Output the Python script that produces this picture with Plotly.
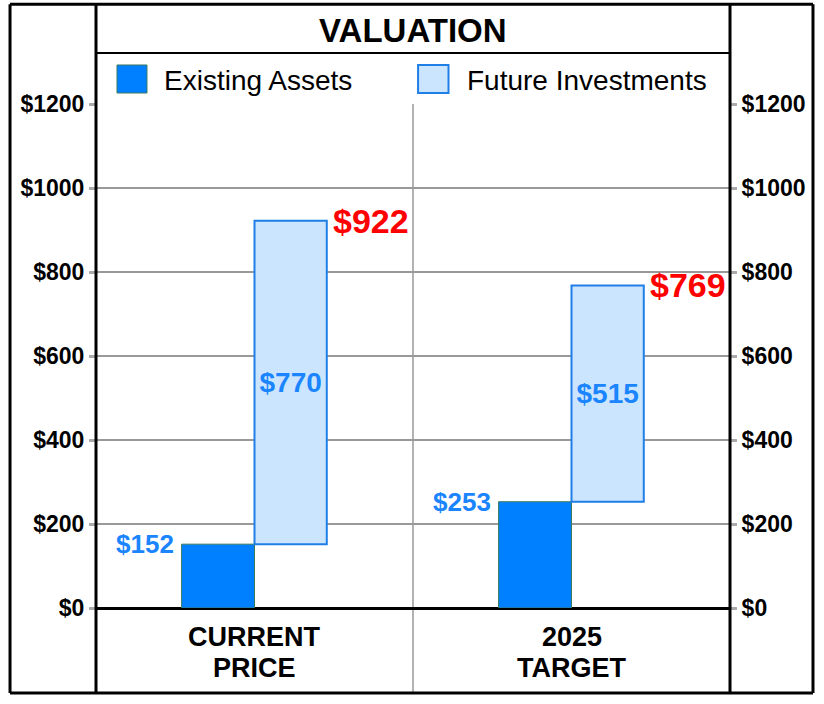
import plotly.graph_objects as go

categories = ["CURRENT PRICE", "2025 TARGET"]
category_lines = [["CURRENT", "PRICE"], ["2025", "TARGET"]]
existing_assets = [152, 253]
future_investments = [770, 515]
totals = [922, 769]
y_ticks = [0, 200, 400, 600, 800, 1000, 1200]
y_tick_labels = ["$0", "$200", "$400", "$600", "$800", "$1000", "$1200"]

FONT = "Liberation Sans, Arial, sans-serif"
BLUE = "#0080ff"
LIGHT = "#cce5ff"
LABEL_BLUE = "#1a85ff"

fig = go.Figure()
fig.add_trace(go.Bar(
    x=categories, y=existing_assets, name="Existing Assets",
    width=0.23, offset=-0.23,
    marker=dict(color=BLUE, line=dict(color="#3d7a5c", width=1)),
    hoverinfo="skip",
))
fig.add_trace(go.Bar(
    x=categories, y=future_investments, base=existing_assets, name="Future Investments",
    width=0.228, offset=0,
    marker=dict(color=LIGHT, line=dict(color="#1f7fe6", width=2)),
    text=["$%d" % v for v in future_investments],
    textposition="inside", insidetextanchor="middle", constraintext="none",
    textfont=dict(family=FONT, size=28, color=LABEL_BLUE, weight="bold"),
    hoverinfo="skip",
))
# invisible trace for right axis
fig.add_trace(go.Scatter(x=categories, y=existing_assets, yaxis="y2", mode="markers",
                         marker=dict(opacity=0), hoverinfo="skip", showlegend=False))

annotations = []
for c, v in zip(categories, existing_assets):
    annotations.append(dict(x=c, y=v, xref="x", yref="y", text="$%d" % v, showarrow=False,
                            xanchor="right", yanchor="middle", xshift=-79,
                            font=dict(family=FONT, size=26, color=LABEL_BLUE, weight="bold")))
for c, t in zip(categories, totals):
    annotations.append(dict(x=c, y=t, xref="x", yref="y", text="$%d" % t, showarrow=False,
                            xanchor="left", yanchor="middle", xshift=76,
                            font=dict(family=FONT, size=34, color="#ff0000", weight="bold")))

# category labels, one annotation per line
for c, lines in zip(categories, category_lines):
    for yy, line in zip([-0.0575, -0.119], lines):
        annotations.append(dict(x=c, y=yy, xref="x", yref="paper", text=line, showarrow=False,
                                xanchor="center", yanchor="middle",
                                font=dict(family=FONT, size=27, color="black", weight="bold")))

# title and legend (drawn in the header band)
annotations.append(dict(x=0.5, y=1.1468, xref="paper", yref="paper", text="VALUATION",
                        showarrow=False, xanchor="center", yanchor="middle",
                        font=dict(family=FONT, size=33, color="black", weight="bold")))
annotations.append(dict(x=0.1041, y=1.0476, xref="paper", yref="paper", text="Existing Assets",
                        showarrow=False, xanchor="left", yanchor="middle",
                        font=dict(family=FONT, size=28, color="black")))
annotations.append(dict(x=0.582, y=1.0476, xref="paper", yref="paper", text="Future Investments",
                        showarrow=False, xanchor="left", yanchor="middle",
                        font=dict(family=FONT, size=28, color="black")))

XL, XR, YB, YT = -0.1356, 1.1309, -0.1687, 1.198
shapes = [
    # outer border (four sides)
    dict(type="line", xref="paper", yref="paper", x0=XL, x1=XR, y0=YT, y1=YT,
         line=dict(color="black", width=3)),
    dict(type="line", xref="paper", yref="paper", x0=XL, x1=XR, y0=YB, y1=YB,
         line=dict(color="black", width=3)),
    dict(type="line", xref="paper", yref="paper", x0=XL, x1=XL, y0=YB, y1=YT,
         line=dict(color="black", width=3)),
    dict(type="line", xref="paper", yref="paper", x0=XR, x1=XR, y0=YB, y1=YT,
         line=dict(color="black", width=3)),
    # inner verticals
    dict(type="line", xref="paper", yref="paper", x0=0, x1=0, y0=YB, y1=YT,
         line=dict(color="black", width=3)),
    dict(type="line", xref="paper", yref="paper", x0=1, x1=1, y0=YB, y1=YT,
         line=dict(color="black", width=3)),
    # title separator
    dict(type="line", xref="paper", yref="paper", x0=0, x1=1, y0=1.1012, y1=1.1012,
         line=dict(color="black", width=2)),
    # center divider
    dict(type="line", xref="paper", yref="paper", x0=0.5, x1=0.5, y0=YB, y1=1.0,
         line=dict(color="#999999", width=1.5), layer="below"),
    # legend swatches
    dict(type="rect", xref="paper", yref="paper", x0=0.0331, x1=0.0804, y0=1.0218, y1=1.0774,
         fillcolor=BLUE, line=dict(color="#3d7a5c", width=1)),
    dict(type="rect", xref="paper", yref="paper", x0=0.508, x1=0.556, y0=1.0218, y1=1.0774,
         fillcolor=LIGHT, line=dict(color="#1f7fe6", width=2)),
]

yaxis_common = dict(
    range=[0, 1200], tickvals=y_ticks, ticktext=y_tick_labels,
    ticks="outside", ticklen=6, tickwidth=3, tickcolor="#aaaaaa",
    tickfont=dict(family=FONT, size=23, color="black", weight="bold"),
    fixedrange=True,
)

fig.update_layout(
    width=824, height=704,
    margin=dict(l=96, r=94, t=104, b=96),
    paper_bgcolor="white", plot_bgcolor="white",
    showlegend=False,
    barmode="overlay",
    xaxis=dict(range=[-0.5, 1.5], showticklabels=False, fixedrange=True,
               showgrid=False, ticks="", showline=False, zeroline=False),
    yaxis=dict(**yaxis_common, side="left", showgrid=True, gridcolor="#999999", gridwidth=1.5,
               zeroline=True, zerolinecolor="black", zerolinewidth=3),
    yaxis2=dict(**yaxis_common, side="right", overlaying="y", showgrid=False, zeroline=False),
    annotations=annotations,
    shapes=shapes,
)

fig.write_html(
    "out.html",
    config={"displayModeBar": False, "staticPlot": True},
    post_script="document.body.style.margin='0';document.body.style.overflow='hidden';",
)
